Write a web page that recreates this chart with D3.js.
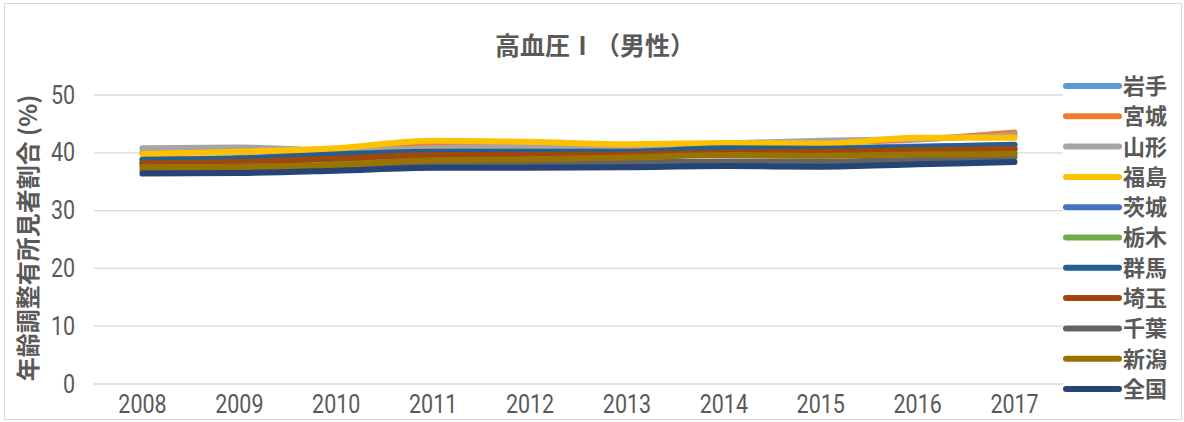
<!DOCTYPE html>
<html>
<head>
<meta charset="utf-8">
<script src="https://cdn.jsdelivr.net/npm/d3@7"></script>
<style>
  body { margin: 0; background: #fff; }
  svg { display: block; }
</style>
</head>
<body>
<svg id="chart"></svg>
<script>
// data
const years = ["2008", "2009", "2010", "2011", "2012", "2013", "2014", "2015", "2016", "2017"];
const series = ["岩手", "宮城", "山形", "福島", "茨城", "栃木", "群馬", "埼玉", "千葉", "新潟", "全国"];
const iwate    = [38.9, 39.1, 39.7, 40.3, 40.3, 40.3, 40.7, 40.8, 41.1, 41.3];
const miyagi   = [40.0, 40.2, 40.5, 41.3, 41.0, 41.0, 41.5, 41.8, 42.3, 43.5];
const yamagata = [40.8, 40.9, 40.4, 40.8, 41.0, 40.9, 41.6, 42.1, 42.4, 43.0];
const fukushima= [39.8, 40.2, 40.8, 42.1, 41.9, 41.5, 41.7, 41.6, 42.6, 42.6];
const ibaraki  = [38.3, 38.5, 39.0, 39.6, 39.6, 39.8, 40.0, 40.2, 40.4, 40.6];
const tochigi  = [37.8, 37.9, 38.4, 38.9, 39.0, 39.3, 39.7, 39.7, 39.9, 40.0];
const gunma    = [38.8, 39.0, 39.7, 40.2, 40.2, 40.2, 40.8, 40.7, 41.0, 41.4];
const saitama  = [38.2, 38.4, 39.0, 39.6, 39.6, 39.7, 40.0, 40.2, 40.4, 40.7];
const chiba    = [37.0, 37.1, 37.5, 38.0, 38.2, 38.3, 38.5, 38.5, 38.8, 39.3];
const niigata  = [37.5, 37.6, 37.9, 38.7, 38.9, 39.2, 39.6, 39.5, 39.7, 39.8];
const zenkoku  = [36.4, 36.5, 36.9, 37.4, 37.4, 37.5, 37.7, 37.6, 38.0, 38.4];
const yTicks = [0, 10, 20, 30, 40, 50];

const values = [iwate, miyagi, yamagata, fukushima, ibaraki, tochigi, gunma, saitama, chiba, niigata, zenkoku];
const colors = ["#5B9BD5", "#ED7D31", "#A5A5A5", "#FFC000", "#4472C4", "#70AD47",
                "#255E91", "#9E480E", "#636363", "#997300", "#264478"];

const W = 1184, H = 422;
const textColor = "#595959";
const numFont = "'Roboto', sans-serif";
const cjkFont = "'Noto Sans CJK JP', 'Noto Sans', sans-serif";

const svg = d3.select("#chart").attr("width", W).attr("height", H);

// outer frame
svg.append("rect")
  .attr("x", 4.5).attr("y", 3.5)
  .attr("width", W - 7).attr("height", H - 6)
  .attr("fill", "#fff").attr("stroke", "#D9D9D9");

const x = d3.scaleBand().domain(years).range([94, 1063]);
const y = d3.scaleLinear().domain([0, 50]).range([384, 95]);

// gridlines
svg.append("g").selectAll("line")
  .data(yTicks).enter().append("line")
  .attr("x1", 94).attr("x2", 1063)
  .attr("y1", d => y(d)).attr("y2", d => y(d))
  .attr("stroke", "#D9D9D9").attr("stroke-width", 1.3);

// y axis labels (narrowed a little, the original font is condensed)
const yAxis = svg.append("g")
  .attr("transform", "translate(94,0)")
  .call(d3.axisLeft(y).tickValues(yTicks).tickSize(0).tickPadding(22));
yAxis.select(".domain").remove();
yAxis.selectAll("text")
  .attr("fill", textColor).style("font-family", numFont).style("font-size", "25px")
  .attr("transform", "scale(0.86,1)");

// x axis labels
const xAxis = svg.append("g")
  .attr("transform", "translate(0,384)")
  .call(d3.axisBottom(x).tickSize(0).tickPadding(11));
xAxis.select(".domain").remove();
xAxis.selectAll("text")
  .attr("fill", textColor).style("font-family", numFont).style("font-size", "25px")
  .attr("transform", "scale(0.86,1)");

// lines
const line = d3.line()
  .x((d, i) => x(years[i]) + x.bandwidth() / 2)
  .y(d => y(d))
  .curve(d3.curveMonotoneX);

svg.append("g").selectAll("path")
  .data(values).enter().append("path")
  .attr("d", line)
  .attr("fill", "none")
  .attr("stroke", (d, i) => colors[i])
  .attr("stroke-width", 6)
  .attr("stroke-linecap", "round")
  .attr("stroke-linejoin", "round");

// title
svg.append("text")
  .attr("x", 595).attr("y", 55)
  .attr("text-anchor", "middle")
  .attr("fill", textColor)
  .style("font-family", cjkFont).style("font-size", "25px").style("font-weight", "bold")
  .text("高血圧Ⅰ（男性）");

// y axis title
svg.append("text")
  .attr("transform", "translate(37,238) rotate(-90)")
  .attr("text-anchor", "middle")
  .attr("fill", textColor)
  .style("font-family", cjkFont).style("font-size", "24px").style("font-weight", "bold")
  .text("年齢調整有所見者割合 (%)");

// legend
const legend = svg.append("g");
legend.append("rect")
  .attr("x", 1063).attr("y", 68).attr("width", 115).attr("height", 338)
  .attr("fill", "#fff");
const item = legend.selectAll("g.item")
  .data(series).enter().append("g")
  .attr("class", "item")
  .attr("transform", (d, i) => "translate(0," + (86 + i * 30.3) + ")");
item.append("line")
  .attr("x1", 1066).attr("x2", 1119)
  .attr("stroke", (d, i) => colors[i])
  .attr("stroke-width", 6)
  .attr("stroke-linecap", "round");
item.append("text")
  .attr("x", 1123).attr("y", 0).attr("dy", "0.36em")
  .attr("fill", textColor)
  .style("font-family", cjkFont).style("font-size", "22px").style("font-weight", "bold")
  .text(d => d);
</script>
</body>
</html>
